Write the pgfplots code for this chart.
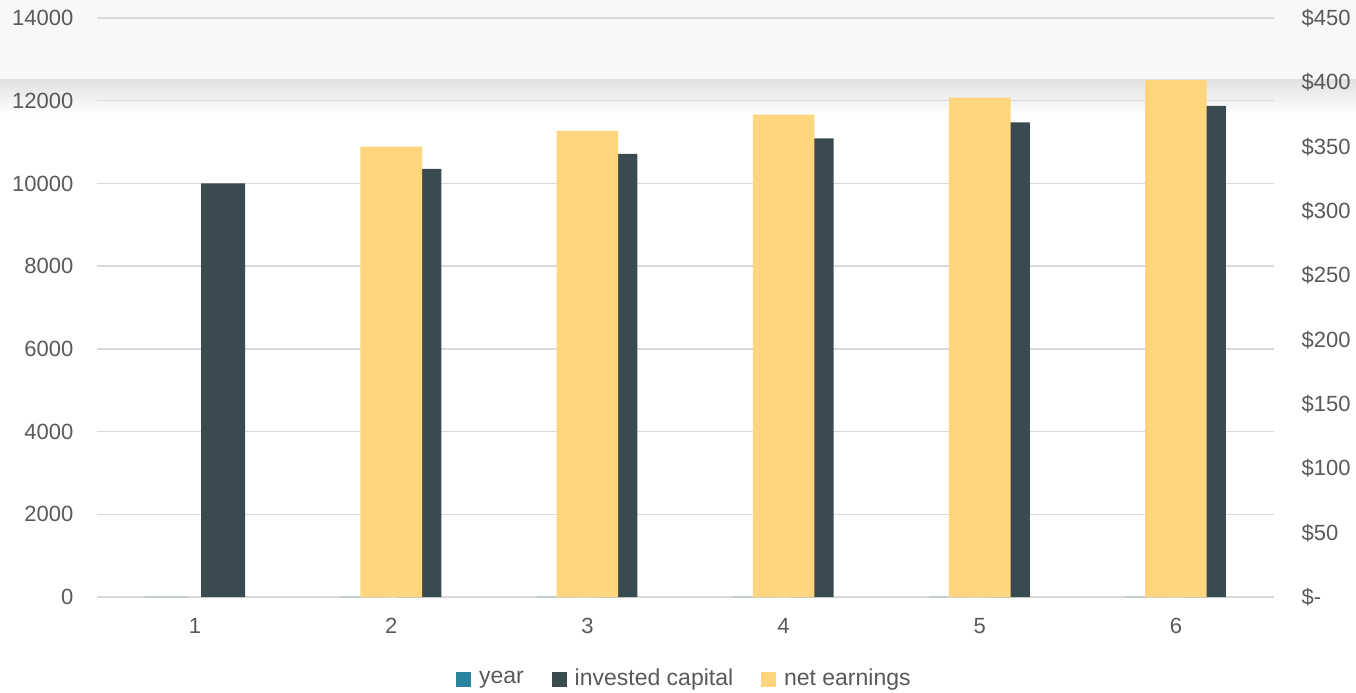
\documentclass[border=0pt]{standalone}
\usepackage{fontspec}
\setmainfont{Liberation Sans}
\usepackage{pgfplots}
\pgfplotsset{compat=1.18}
\definecolor{darkbar}{HTML}{3A4A51}
\definecolor{yellowbar}{HTML}{FFD57E}
\definecolor{tealbar}{HTML}{2B839E}
\definecolor{gridc}{HTML}{D9D9D9}
\definecolor{labelc}{HTML}{595959}
\definecolor{bandc}{HTML}{F8F8F8}
\definecolor{banddark}{HTML}{E2E2E2}
\pgfplotsset{
  sq/.style={legend image code/.code={\fill[#1] (0pt,-3.5pt) rectangle (7pt,3.5pt);}},
  common/.style={
    at={(0,0)}, anchor=south west,
    scale only axis, width=588.5pt, height=289.5pt,
    xmin=0.5, xmax=6.5,
    axis line style={draw=none},
    tick style={draw=none}, major tick length=0pt,
    scaled y ticks=false,
    /pgf/number format/assume math mode=true,
    /pgf/number format/1000 sep={},
    ticklabel style={font=\fontsize{11}{13}\selectfont, text=labelc},
  }
}
\begin{document}
\begin{tikzpicture}
\fill[bandc] (-48.5pt,258.5pt) rectangle (629.5pt,298.5pt);
\shade[top color=banddark, bottom color=white] (-48.5pt,241pt) rectangle (629.5pt,258.5pt);
\begin{axis}[common,
  ymin=0, ymax=14000,
  xtick={1,2,3,4,5,6},
  ytick={0,2000,4000,6000,8000,10000,12000,14000},
  ymajorgrids, grid style={gridc, line width=0.65pt},
  yticklabel style={xshift=-8.3pt},
  xticklabel style={yshift=-7pt},
]
\addplot[ybar, bar width=0.224, bar shift=-0.143, fill=tealbar, draw=none, forget plot]
  coordinates {(1,1) (2,2) (3,3) (4,4) (5,5) (6,6)};
\addplot[ybar, bar width=0.224, bar shift=0.143, fill=darkbar, draw=none, forget plot]
  coordinates {(1,10000) (2,10350) (3,10712.25) (4,11087.18) (5,11475.23) (6,11876.86)};
\end{axis}
\begin{axis}[common,
  ymin=0, ymax=450,
  axis y line*=right, axis x line=none,
  ytick={0,50,100,150,200,250,300,350,400,450},
  yticklabels={\$-,\$50,\$100,\$150,\$200,\$250,\$300,\$350,\$400,\$450},
  yticklabel style={xshift=10.3pt},
  legend columns=3,
  legend style={at={(0.5,-0.1416)}, anchor=center, draw=none, fill=none,
    font=\fontsize{11.5}{13}\selectfont, text=labelc,
    /tikz/every odd column/.append style={column sep=2pt},
    /tikz/every even column/.append style={column sep=12pt}},
]
\addlegendimage{sq=tealbar}
\addlegendentry{year}
\addlegendimage{sq=darkbar}
\addlegendentry{invested capital}
\addlegendimage{sq=yellowbar}
\addlegendentry{net earnings}
\addplot[ybar, bar width=0.314, bar shift=0, fill=yellowbar, draw=none, forget plot]
  coordinates {(2,350) (3,362.25) (4,374.93) (5,388.05) (6,401.63)};
\end{axis}
\pgfresetboundingbox
\path (-48.5pt,-47.5pt) rectangle (629.5pt,298.5pt);
\end{tikzpicture}
\end{document}
